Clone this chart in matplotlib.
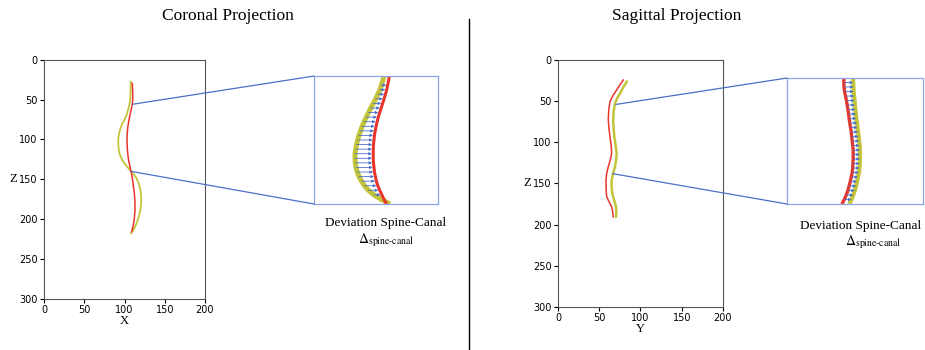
import matplotlib.pyplot as plt
from matplotlib.patches import ConnectionPatch
import numpy as np

plt.rcParams['mathtext.fontset'] = 'stix'

# main curves (Z = height, X / Y = lateral position)
cor_spine_z = [27.8, 35, 42, 52.8, 60, 69.5, 76, 82, 90, 98.7, 107, 115.5, 122, 128, 133, 138.4,
               143, 148.8, 157, 165.6, 174, 182.3, 191, 199, 205, 211.5, 217.7]
cor_spine_x = [107.7, 107.6, 107.4, 106.8, 105.2, 102.7, 99.5, 96.5, 93.8, 92.3, 92.3, 93.2, 95.3,
               98.5, 102.3, 106.8, 111, 115.1, 118.3, 120.1, 120.8, 120.5, 119.2, 117.1, 115, 112.2, 108]
cor_canal_z = [29.8, 40, 52.8, 61, 69.5, 78, 86.2, 95, 103, 113, 123.8, 131, 138.4, 147, 157.2,
               167, 178.1, 189, 199, 208, 215.7]
cor_canal_x = [109.7, 110.2, 110.1, 108.7, 106.8, 105.1, 103.9, 103.2, 103.1, 103.6, 104.7, 106.1,
               107.7, 109.5, 110.9, 112.2, 113, 113, 112.2, 110.8, 108.9]

sag_spine_z = [26.3, 33, 40.5, 46, 52.6, 62, 72.9, 83, 93.1, 103, 113.4, 121, 129.6, 137, 145.8,
               153, 161.9, 170, 178.2, 184, 190.3]
sag_spine_y = [83.3, 79.3, 75.2, 72, 69.1, 67.6, 67, 67.4, 68.3, 69.8, 71.1, 70.6, 69.1, 67, 65.1,
               64.9, 65.8, 68, 70.3, 70.8, 70.3]
sag_canal_z = [24.3, 30, 36.4, 43, 50.6, 61, 72.9, 83, 93.1, 103, 113.4, 121, 129.6, 137, 145.8,
               155, 166, 172, 178.2, 184, 190.3]
sag_canal_y = [79.2, 75.3, 71.1, 66.8, 63, 61.5, 61, 61.8, 63, 64.4, 65.1, 63.5, 61, 59.2, 58.2,
               58.3, 59, 61.8, 65.1, 66.3, 67]

# inset (zoomed) curves
cor_in_z = list(range(56, 141, 3))
cor_in_spine = [104.0, 103.5, 102.9, 102.3, 101.4, 100.5, 99.5, 98.5, 97.5, 96.6,
                95.7, 94.9, 94.2, 93.5, 93.0, 92.5, 92.2, 91.9, 91.9, 92.0,
                92.3, 92.8, 93.6, 94.6, 95.8, 97.5, 99.8, 102.8, 106.5]
cor_in_canal = [106.2, 105.9, 105.5, 105.1, 104.6, 104.0, 103.4, 102.8, 102.2, 101.6,
                101.1, 100.7, 100.3, 100.0, 99.8, 99.6, 99.5, 99.5, 99.5, 99.6,
                99.8, 100.0, 100.4, 100.8, 101.4, 102.2, 103.1, 104.0, 105.1]

sag_in_z = list(range(54, 139, 3))
sag_in_canal = [63.7, 63.7, 63.8, 64.0, 64.4, 64.8, 65.1, 65.4, 65.7, 65.9,
                66.2, 66.5, 66.8, 67.0, 67.2, 67.4, 67.6, 67.6, 67.6, 67.5,
                67.4, 67.2, 66.8, 66.4, 65.9, 65.4, 64.7, 63.9, 62.9]
sag_in_spine = [67.6, 67.6, 67.7, 67.8, 68.0, 68.2, 68.3, 68.5, 68.7, 68.9,
                69.2, 69.4, 69.6, 69.9, 70.1, 70.3, 70.4, 70.4, 70.4, 70.4,
                70.2, 70.0, 69.6, 69.2, 68.8, 68.3, 67.6, 66.9, 66.0]

ticks = [0, 50, 100, 150, 200, 250, 300]

yellow = '#c4c43a'
red = '#e8352b'
blue = '#4a70c8'
boxc = '#8aa6e6'
serif = 'Liberation Serif'

fig = plt.figure(figsize=(9.25, 3.5), dpi=100)


def main_axes(rect, label, xs1, zs1, xs2, zs2, sw):
    ax = fig.add_axes(rect)
    ax.plot(xs1, zs1, color=yellow, lw=sw)
    ax.plot(xs2, zs2, color=red, lw=1.1)
    ax.set_xlim(0, 200)
    ax.set_ylim(300, 0)
    ax.set_xticks([0, 50, 100, 150, 200])
    ax.set_yticks(ticks)
    ax.tick_params(labelsize=7, length=3, pad=1.5)
    ax.set_xlabel(label, family=serif, fontsize=9, labelpad=0)
    ax.set_ylabel('Z', family=serif, fontsize=9, rotation=0, labelpad=4, va='center')
    for s in ax.spines.values():
        s.set_color('#555555')
    return ax


def inset_axes(rect, zs, spine, canal, xlim, ylim, sw, cw, left_to_right):
    ax = fig.add_axes(rect)
    arrow_z = [z for z in zs if ylim[1] + 5 < z < ylim[0] - 5] if left_to_right else zs[1:-1]
    for z, xs, xc in zip(zs, spine, canal):
        if z not in arrow_z:
            continue
        if left_to_right:
            ax.annotate('', xy=(xc - 0.6, z), xytext=(xs, z),
                        arrowprops=dict(arrowstyle='-|>', color=blue, lw=0.6,
                                        mutation_scale=4, shrinkA=0, shrinkB=0))
        else:
            ax.annotate('', xy=(xs, z), xytext=(xc, z),
                        arrowprops=dict(arrowstyle='-|>', color=blue, lw=0.6,
                                        mutation_scale=4, shrinkA=0, shrinkB=0))
    ax.plot(spine, zs, color=yellow, lw=sw, solid_capstyle='butt')
    ax.plot(canal, zs, color=red, lw=cw, solid_capstyle='butt')
    ax.set_xlim(*xlim)
    ax.set_ylim(*ylim)
    ax.set_xticks([])
    ax.set_yticks([])
    for s in ax.spines.values():
        s.set_color(boxc)
        s.set_linewidth(0.9)
    return ax


ax1 = main_axes([0.0476, 0.1457, 0.174, 0.684], 'X', cor_spine_x, cor_spine_z, cor_canal_x, cor_canal_z, 1.3)
ax2 = main_axes([0.6032, 0.1229, 0.1784, 0.7057], 'Y', sag_spine_y, sag_spine_z, sag_canal_y, sag_canal_z, 1.8)

in1 = inset_axes([0.3395, 0.4171, 0.134, 0.3657], cor_in_z, cor_in_spine, cor_in_canal,
                 (74.8, 126.5), (140, 56), 3.6, 2.2, True)
in2 = inset_axes([0.8508, 0.4171, 0.147, 0.36], sag_in_z, sag_in_spine, sag_in_canal,
                 (40, 96.7), (138, 54), 3.0, 2.4, False)

# zoom connector lines
for ax, ins, p_top, p_bot in [(ax1, in1, (110, 56), (108, 140)), (ax2, in2, (70, 54), (66, 138))]:
    for p, yb in [(p_top, 1), (p_bot, 0)]:
        con = ConnectionPatch(xyA=p, coordsA=ax.transData, xyB=(0, yb), coordsB=ins.transAxes,
                              color=blue, lw=0.9)
        fig.add_artist(con)

fig.text(0.246, 0.955, 'Coronal Projection', family=serif, fontsize=12.5, ha='center', va='center')
fig.text(0.732, 0.955, 'Sagittal Projection', family=serif, fontsize=12.5, ha='center', va='center')

fig.text(0.417, 0.363, 'Deviation Spine-Canal', family=serif, fontsize=9.5, ha='center', va='center')
fig.text(0.418, 0.313, r'$\Delta_{\mathrm{spine\text{-}canal}}$', fontsize=10,
         ha='center', va='center')
fig.text(0.930, 0.354, 'Deviation Spine-Canal', family=serif, fontsize=9.5, ha='center', va='center')
fig.text(0.944, 0.308, r'$\Delta_{\mathrm{spine\text{-}canal}}$', fontsize=10,
         ha='center', va='center')

fig.add_artist(plt.Line2D([0.507, 0.507], [0.0, 0.945], color='black', lw=1))

fig.savefig('out.png', dpi=100)
